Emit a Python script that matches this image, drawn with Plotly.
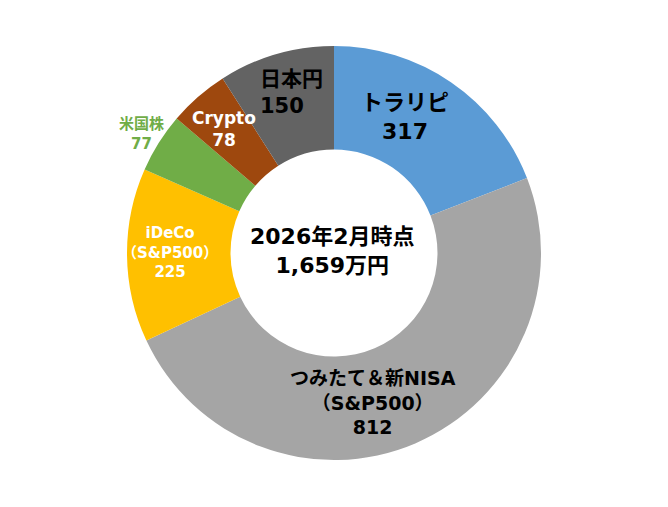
import plotly.graph_objects as go

categories = ["トラリピ", "つみたて＆新NISA<br>（S&P500）", "iDeCo<br>（S&P500）", "米国株", "Crypto", "日本円"]
values = [317, 812, 225, 77, 78, 150]
colors = ["#5B9BD5", "#A5A5A5", "#FFC000", "#70AD47", "#9E480E", "#636363"]
center_title = "2026年2月時点"
center_total = "1,659万円"

W, H = 668, 507
OFF = 8  # page body margin
FONT = "DejaVu Sans, Noto Sans CJK JP, sans-serif"

cx, cy, R = 334 - OFF, 253 - OFF, 207
fig = go.Figure(go.Pie(
    labels=categories,
    values=values,
    hole=0.5,
    sort=False,
    direction="clockwise",
    rotation=0,
    marker=dict(colors=colors, line=dict(width=0)),
    textinfo="none",
    hoverinfo="label+value",
    showlegend=False,
    domain=dict(x=[(cx - R) / W, (cx + R) / W], y=[(H - cy - R) / H, (H - cy + R) / H]),
))

def ann(text, px, py, size, color, xanchor="center", align="center"):
    fig.add_annotation(
        text=text, x=(px - OFF) / W, y=1 - (py - OFF) / H, xref="paper", yref="paper",
        xanchor=xanchor, yanchor="middle",
        showarrow=False, align=align,
        font=dict(family=FONT, size=size, color=color, weight="bold"),
    )

label_specs = [
    (405, 117, 22, "black", "center"),
    (373, 402, 19, "black", "center"),
    (170, 252, 15, "white", "center"),
    (141, 134, 15, "#70AD47", "center"),
    (224, 129, 17, "white", "center"),
    (258, 93, 21, "black", "left"),
]
for cat, val, (px, py, sz, col, xa) in zip(categories, values, label_specs):
    ann(f"{cat}<br>{val}", px, py, sz, col, xanchor=xa, align=xa)

ann(f"{center_title}<br>{center_total}", 332, 251, 22, "black")

fig.update_layout(
    width=W, height=H,
    margin=dict(l=0, r=0, t=0, b=0),
    paper_bgcolor="white", plot_bgcolor="white",
)
fig.write_html("out.html")
